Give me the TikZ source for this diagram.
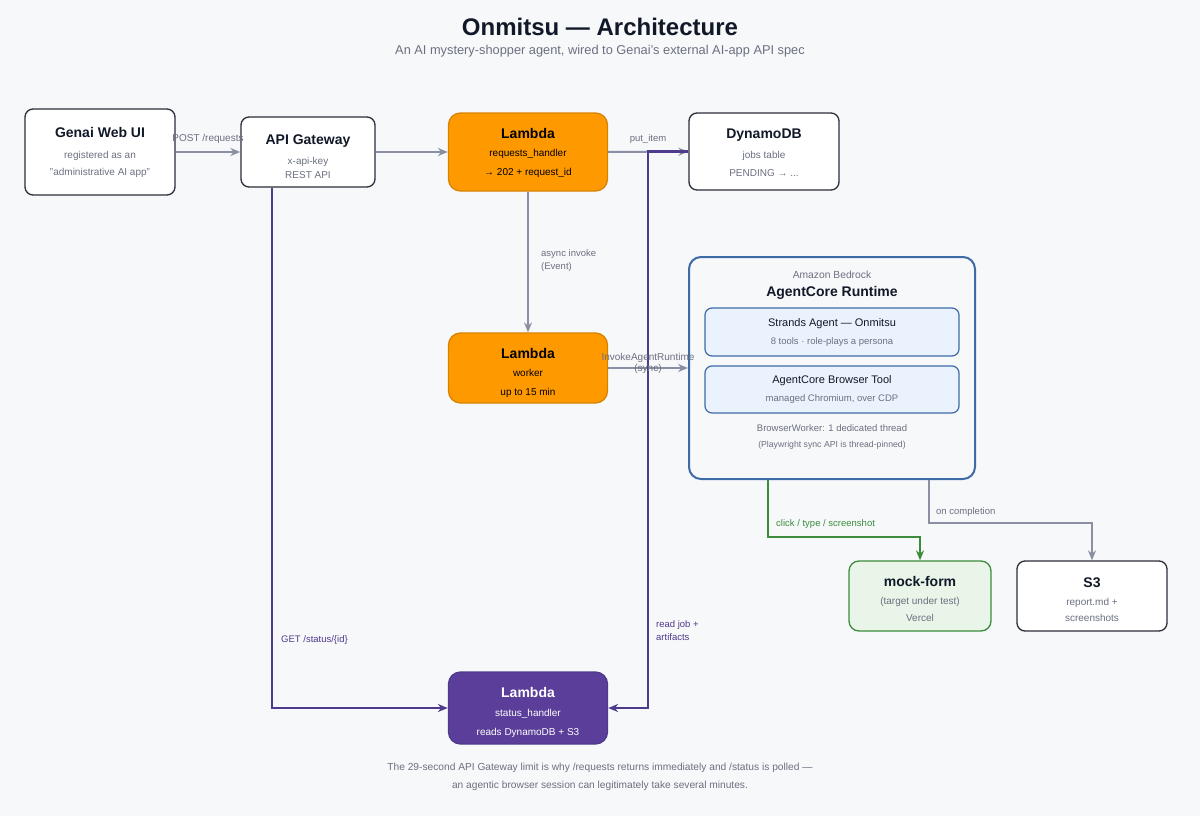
\documentclass[tikz,border=0pt]{standalone}
\usepackage{fontspec}
\setmainfont{Liberation Sans}
\usetikzlibrary{arrows.meta}

\definecolor{pagebg}{HTML}{F7F8FA}
\definecolor{titletext}{HTML}{111827}
\definecolor{subtext}{HTML}{6B7080}
\definecolor{boxline}{HTML}{2B2D3A}
\definecolor{flowgrey}{HTML}{8A8FA3}
\definecolor{awsorange}{HTML}{FF9900}
\definecolor{orangeline}{HTML}{D98200}
\definecolor{pollpurple}{HTML}{4E3B8C}
\definecolor{statusfill}{HTML}{5A3E99}
\definecolor{runtimeblue}{HTML}{3D6BA6}
\definecolor{innerfill}{HTML}{EAF3FD}
\definecolor{mockfill}{HTML}{E8F5E8}
\definecolor{mockgreen}{HTML}{3B8C3B}

% title line of a box; the optional height lowers the whole text block
\newcommand{\boxtitle}[2][0pt]{{\fontsize{14}{16}\selectfont\bfseries\rule{0pt}{#1}#2}}

\begin{document}
\begin{tikzpicture}[
  x=1pt, y=-1pt,
  >={Stealth[length=10pt,width=8pt]},
  box/.style={draw=boxline,fill=white,rounded corners=8pt,line width=1.3pt,
    align=center,inner sep=0pt,font=\fontsize{10}{14}\selectfont,text=subtext},
  lam/.style={box,fill=awsorange,draw=orangeline,rounded corners=12pt,text=black},
  statusbox/.style={box,fill=statusfill,draw=pollpurple,rounded corners=12pt,text=white},
  mockbox/.style={box,fill=mockfill,draw=mockgreen,rounded corners=10pt},
  runtime/.style={draw=runtimeblue,fill=pagebg,rounded corners=12pt,line width=2pt,inner sep=0pt},
  innerbox/.style={draw=runtimeblue,fill=innerfill,rounded corners=7pt,line width=1.2pt,
    align=center,inner sep=0pt,minimum width=254pt,font=\fontsize{9.5}{14}\selectfont,text=subtext},
  flow/.style={->,draw=flowgrey,line width=2pt},
  poll/.style={->,draw=pollpurple,line width=2.2pt},
  drive/.style={->,draw=mockgreen,line width=2pt},
  lbl/.style={font=\fontsize{9.5}{13}\selectfont,text=subtext,inner sep=0pt}
]
\fill[pagebg] (0,0) rectangle (1200,816);
\useasboundingbox (0,0) rectangle (1200,816);

% heading
\node[font=\fontsize{24}{28}\selectfont\bfseries,text=titletext] (head) at (600,27) {Onmitsu — Architecture};
\node[font=\fontsize{12.8}{16}\selectfont,text=subtext] (subhead) at (600,51) {An AI mystery-shopper agent, wired to Genai's external AI-app API spec};

% top row
\node[box,minimum width=150pt,minimum height=86pt] (webui) at (100,152)
  {\textcolor{titletext}{\boxtitle{Genai Web UI}}\\[7pt] registered as an\\[3pt] "administrative AI app"};
\node[box,minimum width=134pt,minimum height=70pt] (api) at (308,152)
  {\textcolor{titletext}{\boxtitle[18.3pt]{API Gateway}}\\[6pt] x-api-key\\ REST API};
\node[lam,minimum width=159pt,minimum height=78pt] (reqs) at (528,152)
  {\boxtitle[12.3pt]{Lambda}\\[4pt] requests\_handler\\[5pt] → 202 + request\_id};
\node[box,minimum width=150pt,minimum height=77pt] (dynamo) at (764,151.5)
  {\textcolor{titletext}{\boxtitle[12.3pt]{DynamoDB}}\\[6pt] jobs table\\[4pt] PENDING → ...};

% worker + runtime
\node[lam,minimum width=159pt,minimum height=70pt] (worker) at (528,368)
  {\boxtitle[20.3pt]{Lambda}\\[4pt] worker\\[5pt] up to 15 min};
\node[runtime,minimum width=286pt,minimum height=222pt] (acr) at (832,368) {};
\node[lbl,font=\fontsize{10.3}{13}\selectfont] (bedrock) at (832,275) {Amazon Bedrock};
\node[font=\fontsize{14}{16}\selectfont\bfseries,text=titletext] (acrname) at (832,293) {AgentCore Runtime};
\node[innerbox,minimum height=48pt] (strands) at (832,332)
  {\textcolor{titletext}{\fontsize{11}{13}\selectfont Strands Agent — Onmitsu}\\[4pt] 8 tools · role-plays a persona};
\node[innerbox,minimum height=47pt] (btool) at (832,389.5)
  {\textcolor{titletext}{\fontsize{11}{13}\selectfont AgentCore Browser Tool}\\[4pt] managed Chromium, over CDP};
\node[lbl] (bworker) at (832,428) {BrowserWorker: 1 dedicated thread};
\node[lbl,font=\fontsize{8.7}{10}\selectfont] (pinned) at (832,445) {(Playwright sync API is thread-pinned)};

% outputs
\node[mockbox,minimum width=142pt,minimum height=70pt] (mock) at (920,596)
  {\textcolor{titletext}{\boxtitle[16.3pt]{mock-form}}\\[4pt] (target under test)\\[3pt] Vercel};
\node[box,minimum width=150pt,minimum height=70pt] (s3) at (1092,596)
  {\textcolor{titletext}{\boxtitle[16.3pt]{S3}}\\[4pt] report.md +\\[2pt] screenshots};

% status
\node[statusbox,minimum width=159pt,minimum height=72pt] (status) at (528,708)
  {\boxtitle[18.3pt]{Lambda}\\[5pt] status\_handler\\[5pt] reads DynamoDB + S3};

% request path
\draw[flow] (webui) -- (api);
\draw[flow] (api) -- (reqs);
\draw[flow] (reqs) -- (dynamo);
\draw[flow] (reqs) -- (worker);
\draw[flow] (worker) -- (acr);
\draw[drive] ([xshift=-64pt]acr.south) -- ++(0,57) -| (mock.north);
\draw[flow] ([xshift=97pt]acr.south) -- ++(0,43) -| (s3.north);

% polling path
\draw[poll] ([xshift=-36pt]api.south) |- (status.west);
\draw[poll] (dynamo.west) -- ++(-40,0) |- (status.east);

% edge labels
\node[lbl,font=\fontsize{10}{13}\selectfont] (lpost) at (208,139) {POST /requests};
\node[lbl] (lput) at (648,139) {put\_item};
\node[lbl,anchor=west,align=left] (lasync) at (541,261) {async invoke\\ (Event)};
\node[lbl,align=center,font=\fontsize{10}{11}\selectfont] (linvoke) at (648,363) {InvokeAgentRuntime\\ (sync)};
\node[lbl,anchor=west,text=mockgreen] (lclick) at (776,524) {click / type / screenshot};
\node[lbl,anchor=west] (ldone) at (936,512) {on completion};
\node[lbl,anchor=west,text=pollpurple] (lget) at (281,640) {GET /status/\{id\}};
\node[lbl,anchor=west,align=left,text=pollpurple] (lread) at (656,630.5) {read job +\\ artifacts};

% footnote
\node[lbl,align=center,font=\fontsize{10.2}{18}\selectfont] (foot) at (600,777)
  {The 29-second API Gateway limit is why /requests returns immediately and /status is polled —\\
   an agentic browser session can legitimately take several minutes.};
\end{tikzpicture}
\end{document}
